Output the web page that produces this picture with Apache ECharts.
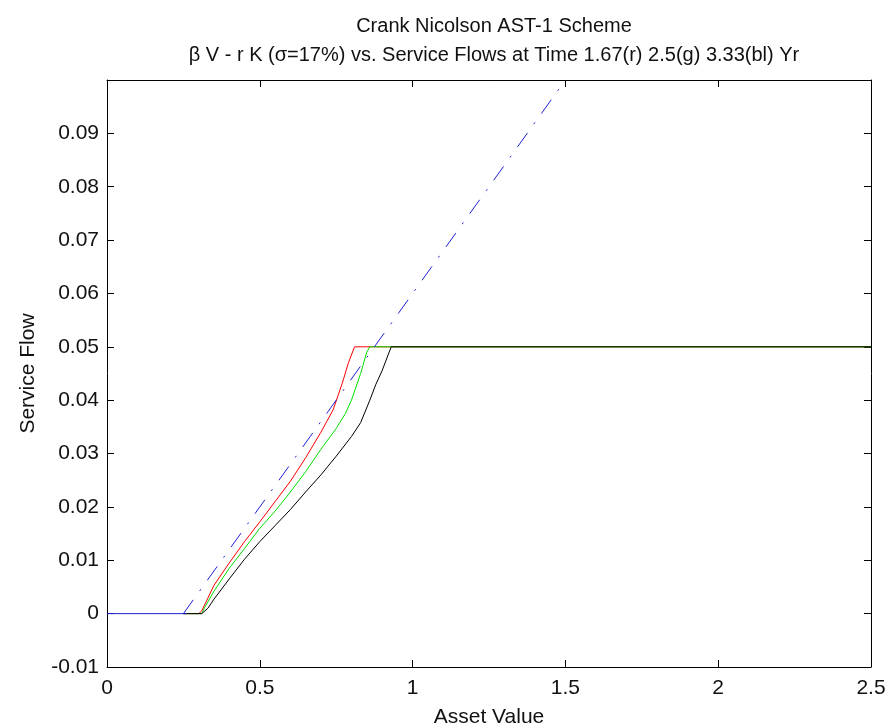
<!DOCTYPE html>
<html>
<head>
<meta charset="utf-8">
<script src="https://cdn.jsdelivr.net/npm/echarts@6/dist/echarts.min.js"></script>
<style>
    html, body { margin: 0; padding: 0; background: #fff; }
    #chart { width: 888px; height: 726px; }
</style>
</head>
<body>
<div id="chart"></div>
<script>
// service flow curves
var redX   = [0.25, 0.30, 0.31, 0.35, 0.40, 0.45, 0.50, 0.55, 0.60, 0.65, 0.70, 0.74, 0.77, 0.79, 0.81, 2.5];
var redY   = [0, 0, 0.0005, 0.0053, 0.0095, 0.0135, 0.0172, 0.021, 0.0248, 0.0292, 0.034, 0.0382, 0.0432, 0.047, 0.05, 0.05];

var greenX = [0.25, 0.31, 0.32, 0.35, 0.40, 0.45, 0.50, 0.55, 0.60, 0.65, 0.70, 0.75, 0.78, 0.80, 0.83, 0.85, 0.86, 2.5];
var greenY = [0, 0, 0.0012, 0.0042, 0.0085, 0.0122, 0.016, 0.0192, 0.0228, 0.0266, 0.0308, 0.0347, 0.0375, 0.040, 0.045, 0.049, 0.05, 0.05];

var blackX = [0.25, 0.31, 0.33, 0.35, 0.40, 0.45, 0.50, 0.55, 0.60, 0.65, 0.70, 0.75, 0.80, 0.83, 0.86, 0.88, 0.90, 0.93, 2.5];
var blackY = [0, 0, 0.001, 0.0027, 0.0065, 0.0102, 0.0135, 0.0165, 0.0195, 0.0228, 0.026, 0.0295, 0.0332, 0.0358, 0.040, 0.043, 0.0455, 0.05, 0.05];

// beta V - r K : flat part, then the rising part
var blueFlatX  = [0, 0.26];
var blueFlatY  = [0, 0];
var blueX  = [0.25, 1.5];
var blueY  = [0, 0.1];

var xTicks = [0, 0.5, 1, 1.5, 2, 2.5];

function pairs(xs, ys) {
    var out = [];
    for (var i = 0; i < xs.length; i++) {
        out.push([xs[i], ys[i]]);
    }
    return out;
}

var font = "'Liberation Sans', Arial, sans-serif";
var axisLine = {show: true, onZero: false, lineStyle: {color: '#000', width: 1}};
var tickIn = {show: true, inside: true, length: 7, lineStyle: {color: '#000', width: 1}};
var blue = '#1f1fd6';

var chart = echarts.init(document.getElementById('chart'));
var option = {
    animation: false,
    backgroundColor: '#fff',
    title: [
        {
            text: 'Crank Nicolson AST-1 Scheme',
            left: 489, top: 11, textAlign: 'center',
            textStyle: {fontFamily: font, fontSize: 20, fontWeight: 'normal', color: '#111'}
        },
        {
            text: 'β V - r K (σ=17%) vs. Service Flows at Time 1.67(r) 2.5(g) 3.33(bl) Yr',
            left: 489, top: 40, textAlign: 'center',
            textStyle: {fontFamily: font, fontSize: 20, fontWeight: 'normal', color: '#111'}
        }
    ],
    grid: {left: 107, right: 17, top: 80, bottom: 59, containLabel: false, outerBoundsMode: 'none'},
    xAxis: [
        {
            type: 'value', min: xTicks[0], max: xTicks[xTicks.length - 1], interval: 0.5,
            position: 'bottom',
            name: 'Asset Value', nameLocation: 'middle', nameGap: 40,
            nameTextStyle: {fontFamily: font, fontSize: 21, color: '#111'},
            axisLine: axisLine, axisTick: tickIn,
            axisLabel: {fontFamily: font, fontSize: 21, color: '#111', margin: 11},
            splitLine: {show: false}
        },
        {
            type: 'value', min: 0, max: 2.5, interval: 0.5, position: 'top',
            axisLine: axisLine, axisTick: tickIn,
            axisLabel: {show: false}, splitLine: {show: false}
        }
    ],
    yAxis: [
        {
            type: 'value', min: -0.01, max: 0.1, interval: 0.01,
            position: 'left',
            name: 'Service Flow', nameLocation: 'middle', nameGap: 68,
            nameTextStyle: {fontFamily: font, fontSize: 21, color: '#111'},
            axisLine: axisLine, axisTick: tickIn,
            axisLabel: {
                fontFamily: font, fontSize: 21, color: '#111', margin: 8,
                showMaxLabel: false,
                formatter: function (v) { return String(Math.round(v * 100) / 100); }
            },
            splitLine: {show: false}
        },
        {
            type: 'value', min: -0.01, max: 0.1, interval: 0.01, position: 'right',
            axisLine: axisLine, axisTick: tickIn,
            axisLabel: {show: false}, splitLine: {show: false}
        }
    ],
    series: [
        {
            type: 'line', data: pairs(redX, redY), showSymbol: false,
            lineStyle: {color: '#ff0000', width: 1}
        },
        {
            type: 'line', data: pairs(greenX, greenY), showSymbol: false,
            lineStyle: {color: '#00e000', width: 1}
        },
        {
            type: 'line', data: pairs(blackX, blackY), showSymbol: false,
            lineStyle: {color: '#000', width: 1}
        },
        {
            type: 'line', data: pairs(blueFlatX, blueFlatY), showSymbol: false,
            lineStyle: {color: blue, width: 1}
        },
        {
            type: 'line', data: pairs(blueX, blueY), showSymbol: false,
            lineStyle: {color: blue, width: 1, type: [17, 11, 2, 11]}
        }
    ]
};
chart.setOption(option);
</script>
</body>
</html>
